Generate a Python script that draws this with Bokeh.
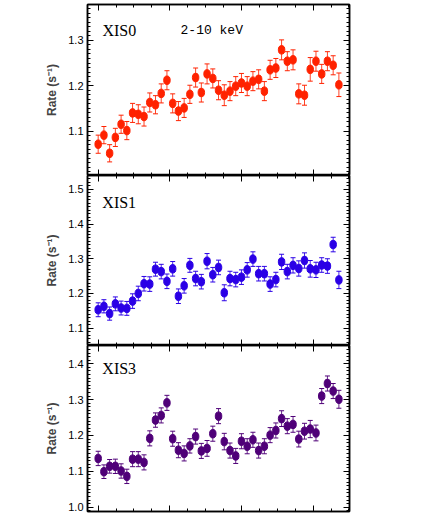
from bokeh.plotting import figure
from bokeh.layouts import column
from bokeh.models import (Range1d, LinearAxis, SingleIntervalTicker, Whisker,
                          TeeHead, ColumnDataSource, Label, CustomJSTickFormatter,
                          PrintfTickFormatter)
from bokeh.embed import file_html
from bokeh.resources import INLINE

# time bins (ks)
times = [0, 4, 8, 12, 16, 20, 24, 28, 32, 36, 40, 44, 48, 52, 56, 60, 64, 68,
         72, 76, 80, 84, 88, 92, 96, 100, 104, 108, 112, 116, 120, 124, 128,
         132, 136, 140, 144, 148, 152, 156, 160, 164, 168]

xis0_rate = [1.071, 1.091, 1.051, 1.086, 1.115, 1.101, 1.140, 1.137, 1.132,
             1.163, 1.158, 1.183, 1.212, 1.161, 1.144, 1.151, 1.181, 1.218,
             1.185, 1.226, 1.216, 1.190, 1.179, 1.188, 1.199, 1.206, 1.199,
             1.210, 1.214, 1.188, 1.235, 1.239, 1.279, 1.254, 1.257, 1.182,
             1.179, 1.236, 1.254, 1.226, 1.254, 1.245, 1.202]
xis0_err = [0.020, 0.019, 0.019, 0.020, 0.020, 0.020, 0.021, 0.021, 0.021,
            0.021, 0.020, 0.021, 0.021, 0.021, 0.021, 0.021, 0.020, 0.021,
            0.021, 0.022, 0.021, 0.021, 0.023, 0.021, 0.021, 0.021, 0.021,
            0.021, 0.021, 0.021, 0.021, 0.021, 0.022, 0.021, 0.022, 0.022,
            0.022, 0.026, 0.022, 0.021, 0.021, 0.021, 0.026]

xis1_rate = [1.153, 1.163, 1.142, 1.170, 1.158, 1.157, 1.178, 1.200, 1.228,
             1.227, 1.270, 1.263, 1.235, 1.271, 1.192, 1.222, 1.281, 1.243,
             1.234, 1.293, 1.254, 1.275, 1.202, 1.243, 1.240, 1.247, 1.268,
             1.299, 1.257, 1.257, 1.227, 1.240, 1.291, 1.263, 1.281, 1.272,
             1.295, 1.271, 1.268, 1.282, 1.279, 1.341, 1.239]
xis1_err = [0.020, 0.019, 0.019, 0.020, 0.020, 0.020, 0.021, 0.021, 0.021,
            0.021, 0.020, 0.021, 0.021, 0.021, 0.021, 0.021, 0.020, 0.021,
            0.021, 0.022, 0.021, 0.021, 0.023, 0.021, 0.021, 0.021, 0.021,
            0.021, 0.021, 0.021, 0.021, 0.021, 0.022, 0.021, 0.022, 0.022,
            0.022, 0.024, 0.022, 0.021, 0.021, 0.021, 0.025]

xis3_rate = [1.136, 1.099, 1.114, 1.114, 1.101, 1.086, 1.134, 1.134, 1.125,
             1.192, 1.243, 1.256, 1.291, 1.191, 1.159, 1.150, 1.171, 1.197,
             1.157, 1.164, 1.205, 1.254, 1.183, 1.158, 1.143, 1.184, 1.170,
             1.188, 1.158, 1.170, 1.201, 1.214, 1.247, 1.226, 1.231, 1.190,
             1.212, 1.218, 1.207, 1.310, 1.345, 1.324, 1.301]
xis3_err = [0.020, 0.019, 0.019, 0.020, 0.020, 0.020, 0.021, 0.021, 0.021,
            0.021, 0.020, 0.021, 0.021, 0.021, 0.021, 0.021, 0.020, 0.021,
            0.021, 0.022, 0.021, 0.021, 0.023, 0.021, 0.021, 0.021, 0.021,
            0.021, 0.021, 0.021, 0.021, 0.021, 0.022, 0.021, 0.022, 0.022,
            0.022, 0.024, 0.022, 0.021, 0.021, 0.021, 0.025]

TICK_FONT = "Liberation Sans"
YLABEL = "Rate (s\u207b\u00b9)"


def style_axis(ax):
    ax.major_tick_in = 6
    ax.major_tick_out = 0
    ax.minor_tick_in = 3
    ax.minor_tick_out = 0
    ax.axis_line_color = "black"
    ax.axis_line_width = 1.5
    ax.major_tick_line_width = 1
    ax.minor_tick_line_width = 1


def blank_axis(ax):
    ax.formatter = CustomJSTickFormatter(code="return ''")
    ax.major_label_text_font_size = "1px"
    ax.major_label_standoff = 0
    ax.axis_label = None


def panel(rate, err, color, yrange, fheight, top_border, bottom_border,
          name, extra=None):
    xt = SingleIntervalTicker(interval=50, num_minor_ticks=4)
    yt = SingleIntervalTicker(interval=0.1, num_minor_ticks=10)
    p = figure(frame_width=262, frame_height=fheight,
               x_range=Range1d(-7.45, 175.4), y_range=Range1d(*yrange),
               output_backend="svg", toolbar_location=None,
               x_axis_type=None, y_axis_type=None,
               min_border_left=87, min_border_right=20,
               min_border_top=top_border, min_border_bottom=bottom_border,
               background_fill_color="white", border_fill_color="white")
    p.grid.visible = False
    p.outline_line_color = "black"
    p.outline_line_width = 1.5

    left = LinearAxis(ticker=yt, formatter=PrintfTickFormatter(format="%.1f"))
    right = LinearAxis(ticker=yt)
    top = LinearAxis(ticker=xt)
    bottom = LinearAxis(ticker=xt)
    p.add_layout(left, "left")
    p.add_layout(right, "right")
    p.add_layout(top, "above")
    p.add_layout(bottom, "below")

    for ax in (left, right, top, bottom):
        style_axis(ax)
    for ax in (right, top, bottom):
        blank_axis(ax)

    left.major_label_text_font = TICK_FONT
    left.major_label_text_font_size = "11px"
    left.major_label_text_color = "black"
    left.major_label_standoff = 4
    left.axis_label = YLABEL
    left.axis_label_text_font = "Liberation Sans"
    left.axis_label_text_font_style = "bold"
    left.axis_label_text_font_size = "12px"
    left.axis_label_standoff = 6

    upper = [r + e for r, e in zip(rate, err)]
    lower = [r - e for r, e in zip(rate, err)]
    src = ColumnDataSource(dict(x=times, y=rate, upper=upper, lower=lower))
    w = Whisker(base="x", upper="upper", lower="lower", source=src,
                line_color=color, line_width=1, line_alpha=0.85,
                upper_head=TeeHead(size=5, line_color=color, line_width=1),
                lower_head=TeeHead(size=5, line_color=color, line_width=1))
    p.add_layout(w)
    p.ellipse(x="x", y="y", width=6.5, height=8.5, width_units="screen",
              height_units="screen", source=src, fill_color=color,
              line_color=color)

    lab = Label(x=name[1], y=name[2], text=name[0],
                text_font="Liberation Serif", text_font_size="16px",
                text_baseline="middle", text_color="black")
    p.add_layout(lab)
    if extra is not None:
        lab2 = Label(x=extra[1], y=extra[2], text=extra[0],
                     text_font="Liberation Mono", text_font_size="13px",
                     text_baseline="middle", text_color="black")
        p.add_layout(lab2)
    return p


p1 = panel(xis0_rate, xis0_err, "#ff2200", (1.002, 1.379), 171, 4, 0,
           ("XIS0", 3.0, 1.322), ("2-10 keV", 57.5, 1.322))
p2 = panel(xis1_rate, xis1_err, "#2a00e6", (1.05, 1.54), 170, 0, 0,
           ("XIS1", 2.9, 1.462))
p3 = panel(xis3_rate, xis3_err, "#4f0078", (0.988, 1.451), 166, 0, 5,
           ("XIS3", 2.9, 1.388))

layout = column(p1, p2, p3, spacing=0)
open("out.html", "w").write(file_html(layout, INLINE))
